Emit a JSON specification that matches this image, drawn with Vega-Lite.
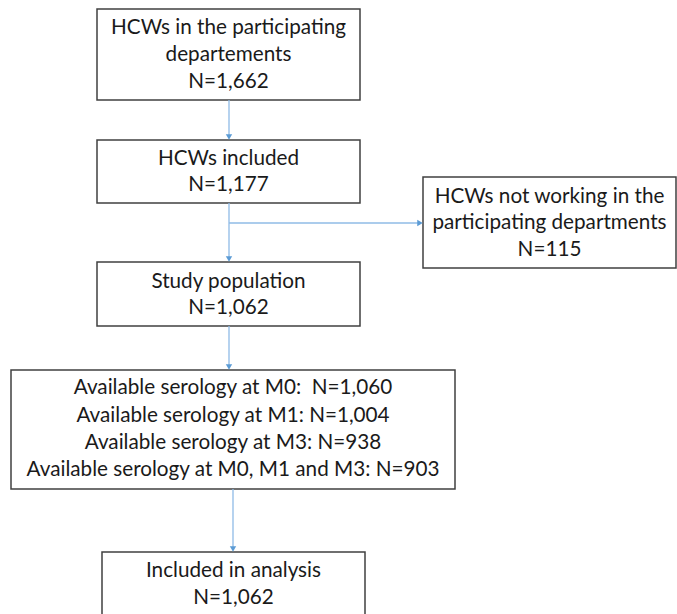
{
  "$schema": "https://vega.github.io/schema/vega-lite/v6.json",
  "width": 677,
  "height": 614,
  "autosize": {"type": "none"},
  "padding": 0,
  "background": "white",
  "config": {"view": {"stroke": null}},
  "datasets": {
    "boxes": [
      {"box": "top", "x0": 97, "x1": 360, "y0": 9, "y1": 100},
      {"box": "included", "x0": 97, "x1": 360, "y0": 140, "y1": 203},
      {"box": "excluded", "x0": 423, "x1": 676, "y0": 177, "y1": 268},
      {"box": "study", "x0": 97, "x1": 360, "y0": 262, "y1": 326},
      {"box": "serology", "x0": 11, "x1": 455, "y0": 370, "y1": 489},
      {"box": "analysis", "x0": 102, "x1": 365, "y0": 552, "y1": 640}
    ],
    "links": [
      {"x": 229, "y": 100, "x2": 229, "y2": 137},
      {"x": 229, "y": 203, "x2": 229, "y2": 259},
      {"x": 229, "y": 223, "x2": 420, "y2": 223},
      {"x": 229, "y": 326, "x2": 229, "y2": 367},
      {"x": 233, "y": 489, "x2": 233, "y2": 549}
    ],
    "heads": [
      {"x": 229, "y": 137, "dir": "down"},
      {"x": 229, "y": 259, "dir": "down"},
      {"x": 420, "y": 223, "dir": "right"},
      {"x": 229, "y": 367, "dir": "down"},
      {"x": 233, "y": 549, "dir": "down"}
    ],
    "labels": [
      {"x": 228.5, "y": 28, "text": "HCWs in the participating"},
      {"x": 228.5, "y": 55, "text": "departements"},
      {"x": 228.5, "y": 82, "text": "N=1,662"},
      {"x": 228.5, "y": 159, "text": "HCWs included"},
      {"x": 228.5, "y": 185, "text": "N=1,177"},
      {"x": 549.5, "y": 197, "text": "HCWs not working in the"},
      {"x": 549.5, "y": 223, "text": "participating departments"},
      {"x": 549.5, "y": 250, "text": "N=115"},
      {"x": 228.5, "y": 282, "text": "Study population"},
      {"x": 228.5, "y": 308, "text": "N=1,062"},
      {"x": 233, "y": 388, "text": "Available serology at M0:\u00a0 N=1,060"},
      {"x": 233, "y": 416, "text": "Available serology at M1: N=1,004"},
      {"x": 233, "y": 443, "text": "Available serology at M3: N=938"},
      {"x": 233, "y": 470, "text": "Available serology at M0, M1 and M3: N=903"},
      {"x": 233.5, "y": 571, "text": "Included in analysis"},
      {"x": 233.5, "y": 598, "text": "N=1,062"}
    ]
  },
  "layer": [
    {
      "data": {"name": "boxes"},
      "mark": {"type": "rect", "fill": "white", "stroke": "#404040", "strokeWidth": 1.5, "clip": true},
      "encoding": {
        "x": {"field": "x0", "type": "quantitative", "scale": {"domain": [0, 677], "nice": false, "zero": false}, "axis": null},
        "x2": {"field": "x1"},
        "y": {"field": "y0", "type": "quantitative", "scale": {"domain": [0, 614], "nice": false, "zero": false, "reverse": true}, "axis": null},
        "y2": {"field": "y1"}
      }
    },
    {
      "data": {"name": "links"},
      "mark": {"type": "rule", "color": "#8fbbe6", "strokeWidth": 1.3},
      "encoding": {
        "x": {"field": "x", "type": "quantitative", "axis": null},
        "x2": {"field": "x2"},
        "y": {"field": "y", "type": "quantitative", "axis": null},
        "y2": {"field": "y2"}
      }
    },
    {
      "data": {"name": "heads"},
      "mark": {"type": "point", "filled": true, "color": "#5b9bd5", "size": 40, "opacity": 1},
      "encoding": {
        "x": {"field": "x", "type": "quantitative", "axis": null},
        "y": {"field": "y", "type": "quantitative", "axis": null},
        "shape": {"field": "dir", "type": "nominal", "scale": {"domain": ["down", "right"], "range": ["triangle-down", "triangle-right"]}, "legend": null}
      }
    },
    {
      "data": {"name": "labels"},
      "mark": {"type": "text", "font": "Lato", "fontSize": 20.7, "color": "#1a1a1a", "align": "center", "baseline": "middle"},
      "encoding": {
        "x": {"field": "x", "type": "quantitative", "axis": null},
        "y": {"field": "y", "type": "quantitative", "axis": null},
        "text": {"field": "text", "type": "nominal"}
      }
    }
  ]
}
